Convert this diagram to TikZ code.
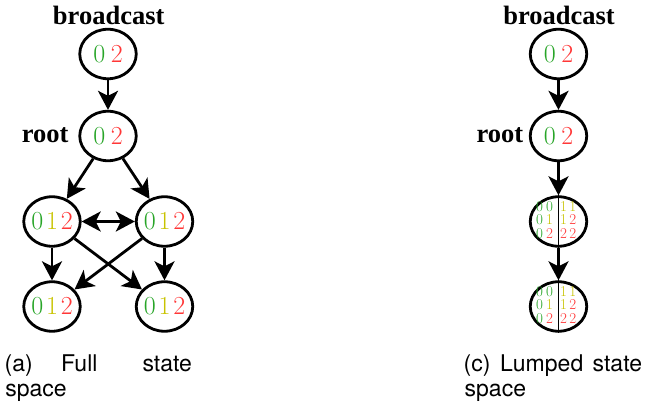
\documentclass[tikz,border=0pt]{standalone}
\usepackage{fontspec}
\newfontfamily\labelfont{Liberation Serif}
\newfontfamily\capfont{TeX Gyre Heros}
\usetikzlibrary{arrows.meta,shapes.geometric}

\definecolor{dgreen}{RGB}{40,165,40}
\definecolor{dyellow}{RGB}{200,195,0}
\definecolor{dred}{RGB}{255,55,55}

% coloured digits
\newcommand\digz{\textcolor{dgreen}{0}}
\newcommand\digo{\textcolor{dyellow}{1}}
\newcommand\digt{\textcolor{dred}{2}}
% contents of the plain state nodes
\newcommand\pairtxt{\makebox[0pt]{\raisebox{-1.5pt}{\digz\kern5.5pt\digt}}}
\newcommand\tripletxt{\makebox[0pt]{\raisebox{-1.5pt}{\digz\kern2.8pt\digo\kern2.8pt\digt}}}
% one row of a lumped state: two digit pairs
\newcommand\lrow[4]{#1\kern2.9pt#2\kern7.1pt#3\kern2.6pt#4}

\tikzset{
  stnode/.style={ellipse, draw, line width=2.8pt, minimum width=56.5pt,
    minimum height=49.5pt, inner sep=0pt, font=\fontsize{26}{26}\selectfont},
  lumpdigits/.style={inner sep=0pt, font=\fontsize{15}{11}\selectfont},
  conn/.style={line width=2.8pt, -{Stealth[length=19pt,width=20pt,inset=5pt]}},
  bothconn/.style={line width=2.8pt,
    {Stealth[length=19pt,width=20pt,inset=5pt]}-{Stealth[length=19pt,width=20pt,inset=5pt]}},
  divider/.style={line width=1.2pt},
  lbl/.style={inner sep=0pt, font=\labelfont\bfseries\fontsize{26.5}{26.5}\selectfont},
  captext/.style={inner sep=0pt, font=\capfont\fontsize{23}{23}\selectfont}
}

\begin{document}
\begin{tikzpicture}[x=1pt,y=-1pt]
\useasboundingbox (0,0) rectangle (646,403);

% ---- (a) full state space ----
\node[lbl, anchor=base] (abctext) at (108.7,25) {broadcast};
\node[stnode] (ab) at (108,54) {\pairtxt};
\node[stnode] (ar) at (108,136) {\pairtxt};
\node[lbl, anchor=base east] (aroottext) at (68.6,143) {root};
\node[stnode] (am1) at (52,221.5) {\tripletxt};
\node[stnode] (am2) at (164.5,221.5) {\tripletxt};
\node[stnode] (al1) at (52,306.5) {\tripletxt};
\node[stnode] (al2) at (164.5,306.5) {\tripletxt};

\draw[conn] (ab) -- (ar);
\draw[conn] (ar) -- (am1);
\draw[conn] (ar) -- (am2);
\draw[bothconn] (am1) -- (am2);
\draw[conn] (am1) -- (al1);
\draw[conn] (am2) -- (al2);
\draw[conn] (am1) -- (al2);
\draw[conn] (am2) -- (al1);

\node[captext, anchor=base west] (capa1) at (4.4,372) {(a)};
\node[captext, anchor=base west] (capa2) at (61,372) {Full};
\node[captext, anchor=base west] (capa3) at (142.3,372) {state};
\node[captext, anchor=base west] (capa4) at (5.2,397) {space};

% ---- (c) lumped state space ----
\node[lbl, anchor=base] (cbctext) at (559,25) {broadcast};
\node[stnode] (cb) at (558.5,54) {\pairtxt};
\node[stnode] (cr) at (558.5,136) {\pairtxt};
\node[lbl, anchor=base east] (croottext) at (523.5,143) {root};
\node[stnode] (cm) at (558.5,221.5) {};
\node[stnode] (cl) at (558.5,306.5) {};
\foreach \s in {cm,cl}{
  \draw[divider] (\s.north) -- (\s.south);
  \node[lumpdigits, xshift=-2.2pt] (\s digits) at (\s.center) {%
    \begin{tabular}{@{}c@{}}
      \lrow{\digz}{\digz}{\digo}{\digo}\\
      \lrow{\digz}{\digo}{\digo}{\digt}\\
      \lrow{\digz}{\digt}{\digt}{\digt}
    \end{tabular}};
}

\draw[conn] (cb) -- (cr);
\draw[conn] (cr) -- (cm);
\draw[conn] (cm) -- (cl);

\node[captext, anchor=base west] (capc1) at (463.5,372) {(c)};
\node[captext, anchor=base west] (capc2) at (500,372) {Lumped};
\node[captext, anchor=base west] (capc3) at (592.5,372) {state};
\node[captext, anchor=base west] (capc4) at (464.5,397) {space};
\end{tikzpicture}
\end{document}
